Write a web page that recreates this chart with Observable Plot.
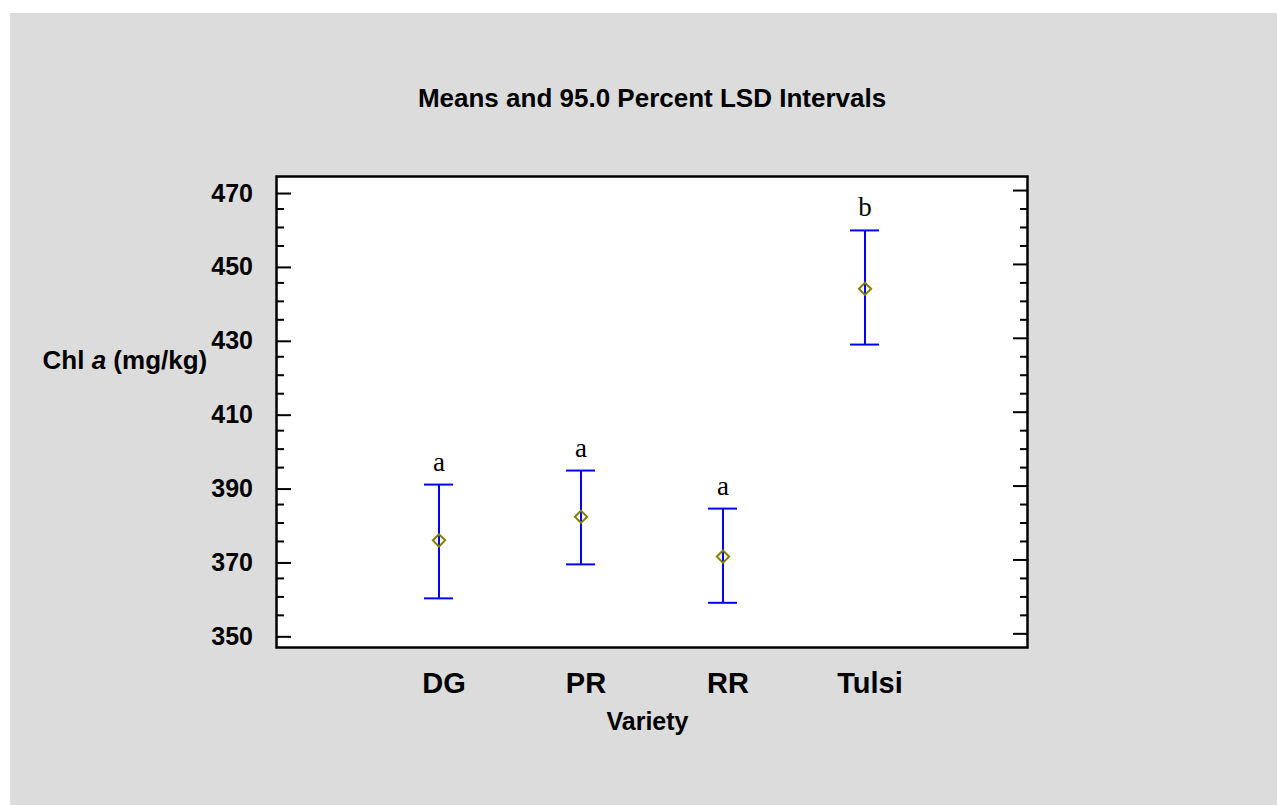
<!DOCTYPE html>
<html>
<head>
<meta charset="utf-8">
<script src="https://cdn.jsdelivr.net/npm/d3@7"></script>
<script src="https://cdn.jsdelivr.net/npm/@observablehq/plot@0.6"></script>
<style>
  html, body { margin: 0; padding: 0; background: #ffffff; }
  #wrap { position: relative; width: 1277px; height: 805px; overflow: hidden; }
  #bg { position: absolute; left: 10px; top: 13px; width: 1267px; height: 792px; background: #dcdcdc; }
  #chart { position: absolute; left: 0; top: 0; }
</style>
</head>
<body>
<div id="wrap"><div id="bg"></div><div id="chart"></div></div>
<script>
// ---- data ----
const varieties    = ["DG", "PR", "RR", "Tulsi"];
const means        = [375.3, 381.7, 370.9, 443.4];
const lowerLimits  = [359.6, 368.8, 358.4, 428.3];
const upperLimits  = [390.4, 394.2, 383.9, 459.2];
const groupLetters = ["a", "a", "a", "b"];
const majorTicks   = [350, 370, 390, 410, 430, 450, 470];
const minorTicks   = [355, 360, 365, 375, 380, 385, 395, 400, 405, 415, 420, 425, 435, 440, 445, 455, 460, 465];
const titleText    = "Means and 95.0 Percent LSD Intervals";
const xLabelText   = "Variety";
const yLabelText   = "Chl a (mg/kg)";

const rows = varieties.map((v, i) => ({
  variety: v, mean: means[i], lower: lowerLimits[i], upper: upperLimits[i], letter: groupLetters[i]
}));

const sans = "'Liberation Sans', Arial, Helvetica, sans-serif";
const serif = "'Liberation Serif', 'Times New Roman', serif";
const blue = "#0000ff";
const olive = "#808000";

const chart = Plot.plot({
  width: 1277,
  height: 805,
  marginLeft: 276,
  marginRight: 250,
  marginTop: 176,
  marginBottom: 158,
  style: { background: "transparent", fontFamily: sans, color: "black" },
  x: { type: "band", domain: varieties, paddingInner: 0.796, paddingOuter: 1.035 },
  y: { domain: [346.3, 473.8] },
  marks: [
    Plot.frame({ fill: "white", stroke: null }),
    Plot.ruleX(rows, { x: "variety", y1: "lower", y2: "upper", stroke: blue, strokeWidth: 2 }),
    Plot.tickY(rows, { x: "variety", y: "upper", stroke: blue, strokeWidth: 2 }),
    Plot.tickY(rows, { x: "variety", y: "lower", stroke: blue, strokeWidth: 2 }),
    Plot.dot(rows, { x: "variety", y: "mean", symbol: "diamond2", r: 5.5, stroke: olive, strokeWidth: 2, fill: "none" }),
    Plot.text(rows, { x: "variety", y: "upper", text: "letter", dy: -14, lineAnchor: "bottom",
      fontFamily: serif, fontSize: 27, fill: "black" }),
    // left axis: major ticks with labels
    Plot.axisY({ anchor: "left", ticks: majorTicks, tickSize: -15, tickPadding: 38.5, strokeWidth: 2,
      fontSize: 25, fontWeight: "bold", dy: 3, label: null, tickFormat: d => String(d) }),
    Plot.axisY({ anchor: "left", ticks: minorTicks, tickSize: -8, strokeWidth: 2, label: null, tickFormat: () => "" }),
    // right axis: ticks only
    Plot.axisY({ anchor: "right", ticks: majorTicks, tickSize: -15, strokeWidth: 2, label: null, tickFormat: () => "" }),
    Plot.axisY({ anchor: "right", ticks: minorTicks, tickSize: -8, strokeWidth: 2, label: null, tickFormat: () => "" }),
    // x axis labels
    Plot.axisX({ anchor: "bottom", tickSize: 0, tickPadding: 25, dx: 5, lineAnchor: "top",
      fontSize: 29, fontWeight: "bold", label: null }),
    Plot.frame({ stroke: "black", strokeWidth: 2.5, fill: "none" }),
    // titles
    Plot.text([titleText], { frameAnchor: "top", dy: -70, lineAnchor: "bottom",
      fontSize: 26, fontWeight: "bold", fill: "black" }),
    Plot.text([xLabelText], { frameAnchor: "bottom", dx: -4.5, dy: 82, lineAnchor: "bottom",
      fontSize: 25, fontWeight: "bold", fill: "black" }),
    Plot.text([yLabelText], { frameAnchor: "left", dx: -151.6, dy: -51.8, textAnchor: "middle",
      fontSize: 26, fontWeight: "bold", fill: "black" })
  ]
});

// italicize the "a" in the y-axis label
d3.select(chart).selectAll("text")
  .filter(function () { return this.textContent === yLabelText; })
  .each(function () {
    const t = d3.select(this);
    t.text(null);
    t.append("tspan").text("Chl ");
    t.append("tspan").attr("font-style", "italic").text("a");
    t.append("tspan").text(" (mg/kg)");
  });

document.getElementById("chart").appendChild(chart);
</script>
</body>
</html>
